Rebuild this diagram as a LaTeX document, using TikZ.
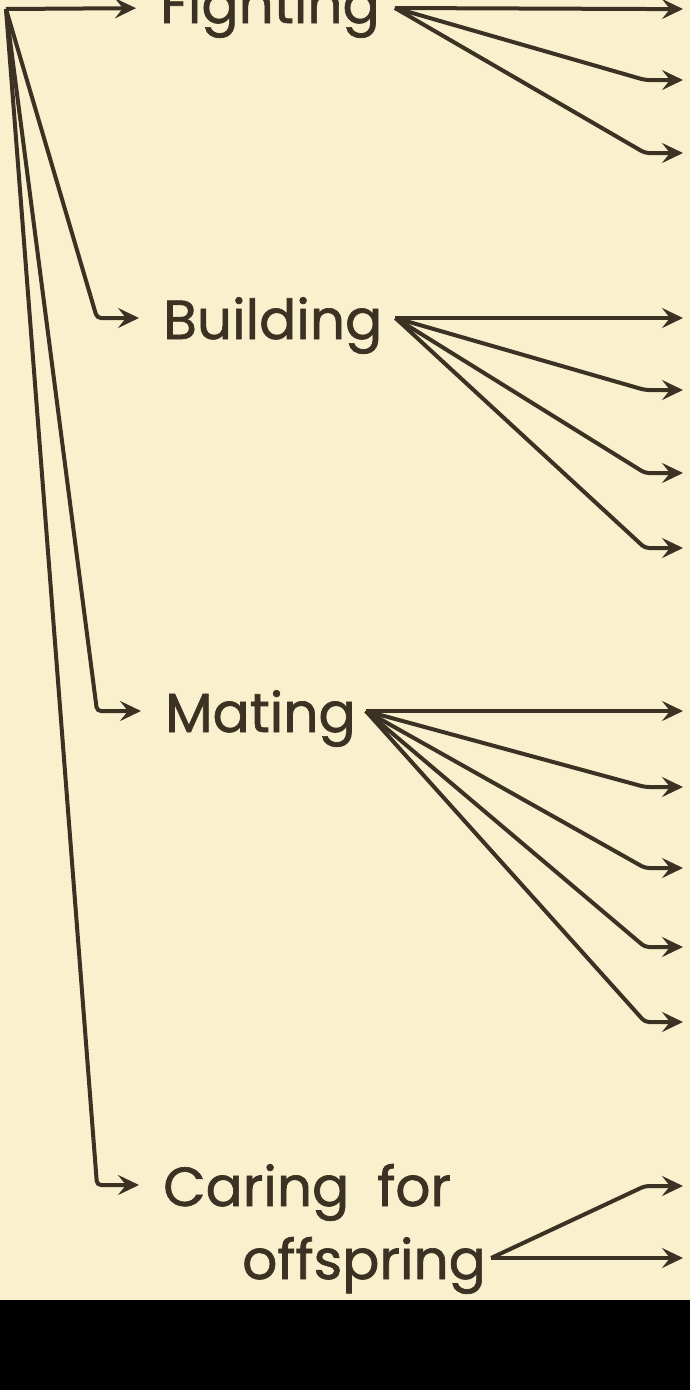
\documentclass[tikz,border=0pt]{standalone}
\usepackage{fontspec}
\setmainfont{Poppins}[FakeBold=1.2]
\usetikzlibrary{arrows.meta}
\definecolor{paper}{HTML}{F9F0CD}
\definecolor{ink}{HTML}{3B3223}

\begin{document}
\begin{tikzpicture}[x=1pt, y=-1pt,
    lbl/.style={inner sep=0pt, anchor=base west, text height=42pt, text depth=0pt,
      text=ink, font=\fontsize{55}{66}\selectfont},
    link/.style={ink, line width=4pt, rounded corners=4pt,
      -{Stealth[length=21pt, width=20pt, inset=8pt]}},
    feed/.style={link, shorten >=24pt}]
  % page and bottom band
  \useasboundingbox (0,0) rectangle (690,1390);
  \clip (0,0) rectangle (690,1390);
  \fill[paper] (0,0) rectangle (690,1300);
  \fill[black] (0,1300) rectangle (690,1390);
  % behaviours
  \coordinate (root) at (6,9);
  \node[lbl, text height=30pt] (fight) at (160,23) {Fighting};
  \node[lbl] (build) at (163,339) {Building};
  \node[lbl] (mate) at (165,732) {Mating};
  \node[lbl] (caring) at (163,1206) {Caring\hspace{28pt}for};
  \node[lbl] (offs) at (242,1279) {offspring};
  % from the root
  \draw[feed] (root) -- (fight.west);
  \draw[feed] (root) -- ([xshift=-66pt]build.west) -- (build.west);
  \draw[feed] (root) -- ([xshift=-68pt]mate.west) -- (mate.west);
  \draw[feed] (root) -- ([xshift=-66pt]caring.west) -- (caring.west);
  % fans
  \coordinate (fo) at ([xshift=15pt]fight.east);
  \foreach \y [count=\i] in {9,80,153} {
    \coordinate (f\i) at (683,\y);
    \draw[link] (fo) -- ([xshift=-38pt]f\i) -- (f\i);
  }
  \coordinate (bo) at ([xshift=13pt]build.east);
  \foreach \y [count=\i] in {318,390,473,548} {
    \coordinate (b\i) at (683,\y);
    \draw[link] (bo) -- ([xshift=-38pt]b\i) -- (b\i);
  }
  \coordinate (mo) at ([xshift=10pt]mate.east);
  \foreach \y [count=\i] in {711,787,868,947,1022} {
    \coordinate (m\i) at (683,\y);
    \draw[link] (mo) -- ([xshift=-38pt]m\i) -- (m\i);
  }
  \coordinate (oo) at ([xshift=5pt]offs.east);
  \foreach \y [count=\i] in {1186,1258} {
    \coordinate (o\i) at (683,\y);
    \draw[link] (oo) -- ([xshift=-38pt]o\i) -- (o\i);
  }
\end{tikzpicture}
\end{document}
